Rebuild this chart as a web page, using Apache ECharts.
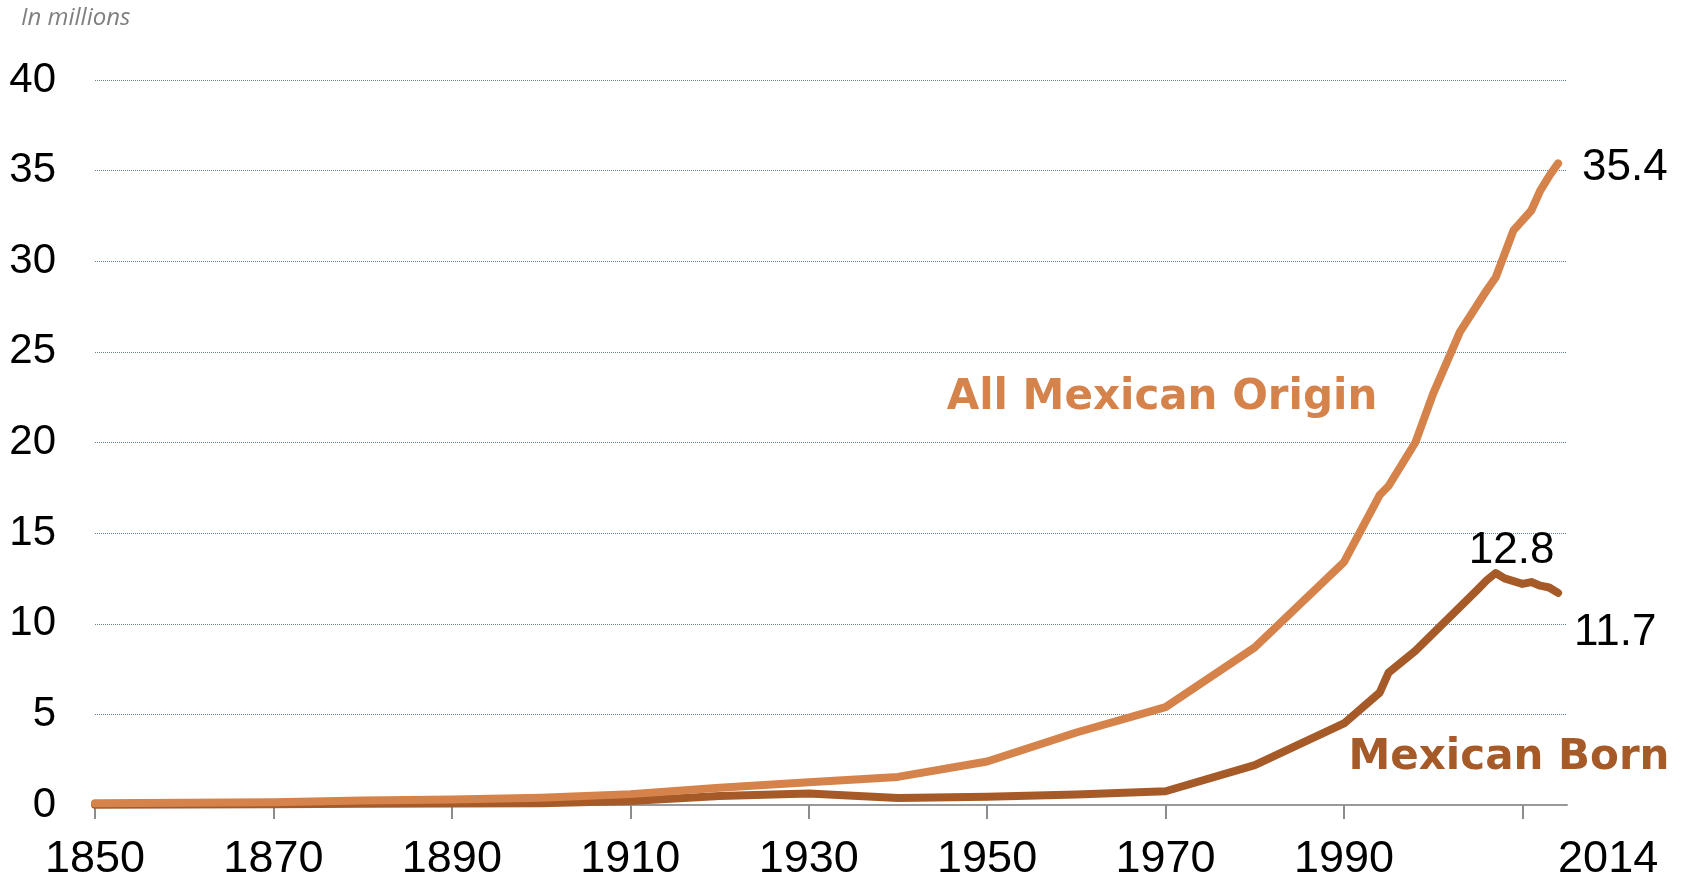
<!DOCTYPE html>
<html>
<head>
<meta charset="utf-8">
<title>Mexican population in the U.S., 1850-2014</title>
<script src="https://cdn.jsdelivr.net/npm/echarts@6/dist/echarts.min.js"></script>
<style>
  html, body { margin: 0; padding: 0; background: #fff; }
  #main { width: 1686px; height: 876px; }
</style>
</head>
<body>
<div id="main"></div>
<script>
// all Mexican origin population, in millions
const originYears = [1850, 1860, 1870, 1880, 1890, 1900, 1910, 1920, 1930, 1940, 1950, 1960, 1970, 1980,
  1990, 1994, 1995, 1998, 2000, 2003, 2006, 2007, 2009, 2011, 2012, 2013, 2014];
const originValues = [0.1, 0.12, 0.15, 0.25, 0.3, 0.4, 0.6, 0.95, 1.25, 1.55, 2.4, 4.0, 5.4, 8.7,
  13.4, 17.1, 17.6, 20.0, 22.7, 26.1, 28.4, 29.1, 31.7, 32.8, 33.9, 34.7, 35.4];

// Mexican born population, in millions
const bornYears = [1850, 1860, 1870, 1880, 1890, 1900, 1910, 1920, 1930, 1940, 1950, 1960, 1970, 1980,
  1990, 1994, 1995, 1998, 2005, 2006, 2007, 2008, 2010, 2011, 2012, 2013, 2014];
const bornValues = [0.01, 0.03, 0.04, 0.07, 0.08, 0.1, 0.22, 0.49, 0.64, 0.38, 0.45, 0.58, 0.76, 2.2,
  4.5, 6.2, 7.3, 8.5, 11.9, 12.4, 12.8, 12.5, 12.2, 12.3, 12.1, 12.0, 11.7];

const xTickYears = [1850, 1870, 1890, 1910, 1930, 1950, 1970, 1990, 2010];
const xLabelYears = [1850, 1870, 1890, 1910, 1930, 1950, 1970, 1990, 2014];

const ORANGE = '#D5834A';
const BROWN = '#A55A28';
const numFont = '"Liberation Sans", Arial, sans-serif';
const nameFont = 'bold 42px "DejaVu Sans", Verdana, sans-serif';

const pairs = (xs, ys) => xs.map((x, i) => [x, ys[i]]);

// peak of the Mexican born line
let peak = 0;
bornValues.forEach((v, i) => { if (v > bornValues[peak]) peak = i; });

const myChart = echarts.init(document.getElementById('main'));

myChart.setOption({
  animation: false,
  grid: {
    left: 95,
    right: 119,
    top: 80,
    bottom: 71,
    outerBoundsMode: 'none',
    containLabel: false
  },
  xAxis: {
    type: 'value',
    min: 1850,
    max: 2015,
    interval: 20,
    splitLine: { show: false },
    axisLine: {
      lineStyle: { color: '#999', width: 2 }
    },
    axisTick: {
      customValues: xTickYears,
      length: 14,
      lineStyle: { color: '#8c8c8c', width: 2 }
    },
    axisLabel: {
      customValues: xLabelYears,
      alignMaxLabel: 'left',
      margin: 32,
      color: '#000',
      fontSize: 45,
      fontFamily: numFont,
      formatter: (v) => String(v)
    }
  },
  yAxis: {
    type: 'value',
    min: 0,
    max: 40,
    interval: 5,
    axisLine: { show: false },
    axisTick: { show: false },
    axisLabel: {
      margin: 39,
      color: '#000',
      fontSize: 42,
      fontFamily: numFont
    },
    splitLine: {
      lineStyle: { color: '#5f7f9f', type: 'dotted', width: 1 }
    }
  },
  graphic: [
    {
      type: 'text', left: 21, top: 6,
      style: { text: 'In millions', font: 'italic 24px "Open Sans", sans-serif', fill: '#808080' }
    },
    {
      type: 'text', x: 1162, y: 398,
      style: { text: 'All Mexican Origin', font: nameFont, fill: ORANGE, align: 'center', verticalAlign: 'middle' }
    },
    {
      type: 'text', x: 1509, y: 758,
      style: { text: 'Mexican Born', font: nameFont, fill: BROWN, align: 'center', verticalAlign: 'middle' }
    }
  ],
  series: [
    {
      name: 'Mexican Born',
      type: 'line',
      showSymbol: false,
      symbol: 'none',
      data: pairs(bornYears, bornValues),
      lineStyle: { color: BROWN, width: 8, cap: 'round', join: 'round' },
      itemStyle: { color: BROWN },
      endLabel: {
        show: true,
        offset: [8, 40],
        color: '#000',
        fontSize: 44,
        fontFamily: numFont,
        formatter: (p) => p.value[1].toFixed(1)
      },
      markPoint: {
        symbol: 'circle',
        symbolSize: 0,
        data: [{ coord: [bornYears[peak], bornValues[peak]], value: bornValues[peak] }],
        label: {
          show: true,
          position: 'inside',
          offset: [16, -22],
          color: '#000',
          fontSize: 44,
          fontFamily: numFont,
          formatter: (p) => p.value.toFixed(1)
        }
      }
    },
    {
      name: 'All Mexican Origin',
      type: 'line',
      showSymbol: false,
      symbol: 'none',
      data: pairs(originYears, originValues),
      lineStyle: { color: ORANGE, width: 8, cap: 'round', join: 'round' },
      itemStyle: { color: ORANGE },
      endLabel: {
        show: true,
        distance: 24,
        offset: [0, 4],
        color: '#000',
        fontSize: 44,
        fontFamily: numFont,
        formatter: (p) => p.value[1].toFixed(1)
      }
    }
  ]
});
</script>
</body>
</html>
